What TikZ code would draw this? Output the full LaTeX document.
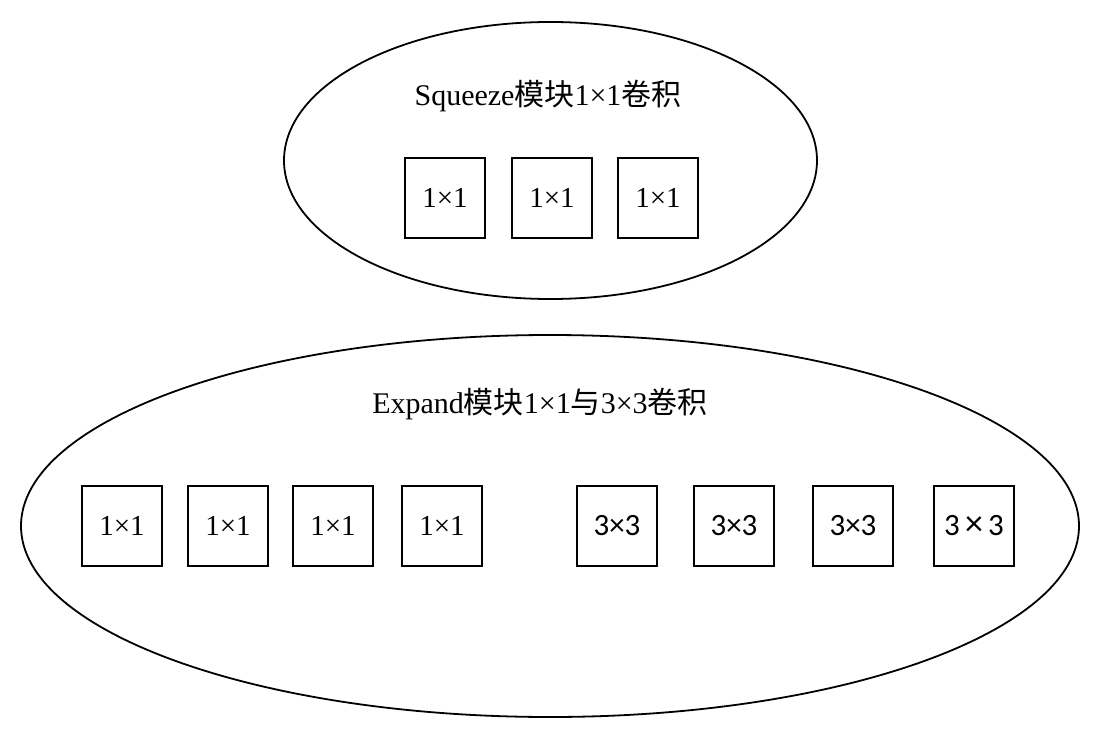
\documentclass[tikz,border=0pt]{standalone}
\usepackage{fontspec}
\setmainfont{Liberation Serif}
\newfontfamily\cjk{Noto Sans CJK SC}
\newfontfamily\calib{Carlito}
\begin{document}
\begin{tikzpicture}[x=1pt,y=-1pt,
  cell/.style={draw,line width=1.8pt,minimum width=80pt,minimum height=80pt,inner sep=0pt,font=\fontsize{29}{30}\selectfont},
  calcell/.style={cell,font=\calib\fontsize{31}{30}\selectfont},
  blob/.style={draw,line width=1.8pt},
  title/.style={font=\fontsize{30}{32}\selectfont}]
\useasboundingbox (0,0) rectangle (1100,738);
\draw[blob] (550.5,160.5) ellipse [x radius=266.5, y radius=138.5];
\draw[blob] (550,526) ellipse [x radius=529, y radius=191];
\node[title] (t1) at (548,96) {Squeeze{\cjk 模块}1×1{\cjk 卷积}};
\node[title] (t2) at (540,404) {Expand{\cjk 模块}1×1{\cjk 与}3×3{\cjk 卷积}};
\node[cell] (s1) at (445,198) {1×1};
\node[cell] (s2) at (552,198) {1×1};
\node[cell] (s3) at (658,198) {1×1};
\node[cell] (a1) at (122,526) {1×1};
\node[cell] (a2) at (228,526) {1×1};
\node[cell] (a3) at (333,526) {1×1};
\node[cell] (a4) at (442,526) {1×1};
\node[calcell] (b1) at (617,526) {3×3};
\node[calcell] (b2) at (734,526) {3×3};
\node[calcell] (b3) at (853,526) {3×3};
\node[calcell] (b4) at (974,526) {3\,{\fontsize{36}{30}\selectfont×}\,3};
\end{tikzpicture}
\end{document}
